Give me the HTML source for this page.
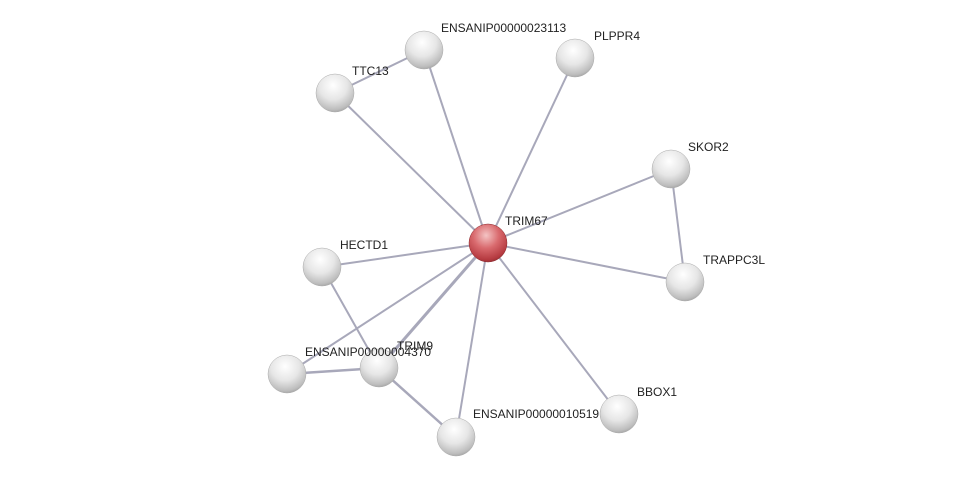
<!DOCTYPE html>
<html><head><meta charset="utf-8"><style>
html,body{margin:0;padding:0;background:#fff;width:976px;height:482px;overflow:hidden}
text{font-family:"Liberation Sans",sans-serif;font-size:12px;fill:#222}
</style></head><body>
<svg width="976" height="482" viewBox="0 0 976 482" xmlns="http://www.w3.org/2000/svg">
<defs>
<radialGradient id="g" cx="0.45" cy="0.3" r="0.75">
<stop offset="0" stop-color="#ffffff"/><stop offset="0.5" stop-color="#e6e6e6"/><stop offset="0.85" stop-color="#bdbdbd"/><stop offset="1" stop-color="#9a9a9a"/>
</radialGradient>
<radialGradient id="r" cx="0.45" cy="0.3" r="0.75">
<stop offset="0" stop-color="#f4c4c4"/><stop offset="0.45" stop-color="#d96a6e"/><stop offset="0.85" stop-color="#b53a40"/><stop offset="1" stop-color="#8a2a2e"/>
</radialGradient>
</defs>
<g stroke="#a8a8ba" stroke-width="2" fill="none">
<line x1="488" y1="243" x2="424" y2="50"/>
<line x1="488" y1="243" x2="575" y2="58"/>
<line x1="488" y1="243" x2="335" y2="93"/>
<line x1="488" y1="243" x2="671" y2="169"/>
<line x1="488" y1="243" x2="685" y2="282"/>
<line x1="488" y1="243" x2="322" y2="267"/>
<line x1="488" y1="243" x2="379" y2="368" stroke-width="3"/>
<line x1="488" y1="243" x2="287" y2="374"/>
<line x1="488" y1="243" x2="456" y2="437"/>
<line x1="488" y1="243" x2="619" y2="414"/>
<line x1="335" y1="93" x2="424" y2="50"/>
<line x1="671" y1="169" x2="685" y2="282"/>
<line x1="322" y1="267" x2="379" y2="368"/>
<line x1="287" y1="374" x2="379" y2="368" stroke-width="2.5"/>
<line x1="379" y1="368" x2="456" y2="437" stroke-width="2.5"/>
</g>
<g fill="url(#g)" stroke="#aaa" stroke-width="0.5">
<circle cx="424" cy="50" r="19"/>
<circle cx="575" cy="58" r="19"/>
<circle cx="335" cy="93" r="19"/>
<circle cx="671" cy="169" r="19"/>
<circle cx="685" cy="282" r="19"/>
<circle cx="322" cy="267" r="19"/>
<circle cx="379" cy="368" r="19"/>
<circle cx="287" cy="374" r="19"/>
<circle cx="456" cy="437" r="19"/>
<circle cx="619" cy="414" r="19"/>
</g>
<circle cx="488" cy="243" r="19" fill="url(#r)" stroke="#8a2a2e" stroke-width="0.5"/>
<text x="505" y="225">TRIM67</text>
<text x="441" y="32">ENSANIP00000023113</text>
<text x="594" y="40">PLPPR4</text>
<text x="352" y="75">TTC13</text>
<text x="688" y="151">SKOR2</text>
<text x="703" y="264">TRAPPC3L</text>
<text x="340" y="249">HECTD1</text>
<text x="397" y="350" fill="#888">TRIM9</text>
<text x="305" y="356">ENSANIP00000004370</text>
<text x="473" y="418">ENSANIP00000010519</text>
<text x="637" y="396">BBOX1</text>
</svg>
</body></html>
